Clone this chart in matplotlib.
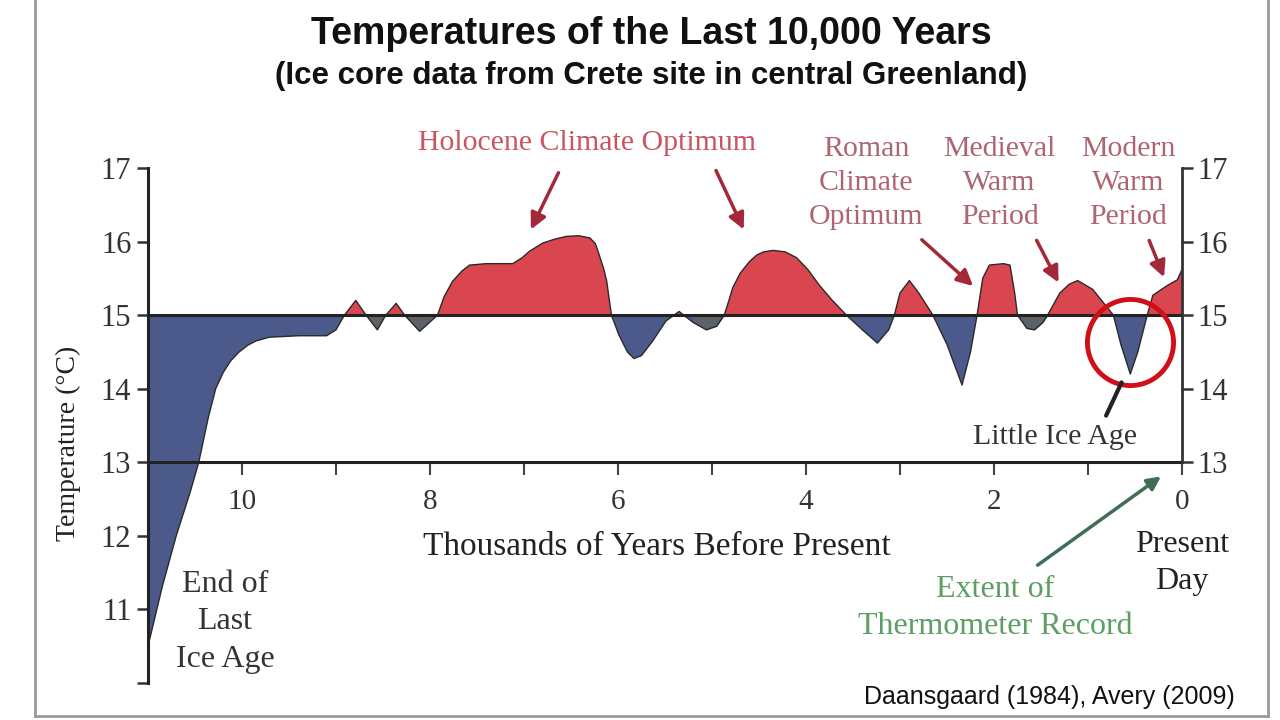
import numpy as np
import matplotlib.pyplot as plt

# thousands of years before present, temperature (deg C)
kyr = [11.00, 10.85, 10.70, 10.55, 10.46, 10.36, 10.28, 10.20, 10.12, 10.03,
       9.94, 9.85, 9.71, 9.40, 9.10, 9.00, 8.91, 8.79, 8.68, 8.56,
       8.47, 8.36, 8.27, 8.11, 7.92, 7.85, 7.76, 7.66, 7.58, 7.40,
       7.12, 7.02, 6.94, 6.80, 6.68, 6.55, 6.42, 6.30, 6.24, 6.20,
       6.15, 6.12, 6.07, 5.99, 5.90, 5.83, 5.75, 5.63, 5.49, 5.35,
       5.20, 5.06, 4.95, 4.87, 4.82, 4.78, 4.70, 4.60, 4.52, 4.45,
       4.35, 4.22, 4.10, 3.98, 3.86, 3.72, 3.57, 3.40, 3.24, 3.12,
       3.06, 3.00, 2.90, 2.80, 2.65, 2.50, 2.34, 2.25, 2.18, 2.12,
       2.05, 1.90, 1.83, 1.78, 1.75, 1.65, 1.57, 1.48, 1.43, 1.30,
       1.20, 1.11, 0.95, 0.73, 0.65, 0.55, 0.47, 0.37, 0.31, 0.16,
       0.05, 0.00]
temp = [10.50, 11.30, 12.00, 12.60, 13.00, 13.60, 14.00, 14.22, 14.38, 14.50,
        14.59, 14.65, 14.70, 14.72, 14.72, 14.80, 15.00, 15.20, 15.00, 14.80,
        15.00, 15.16, 15.00, 14.78, 15.00, 15.25, 15.46, 15.60, 15.68, 15.70,
        15.70, 15.78, 15.87, 15.98, 16.03, 16.07, 16.08, 16.05, 15.97, 15.82,
        15.62, 15.46, 15.00, 14.73, 14.50, 14.41, 14.45, 14.65, 14.92, 15.05,
        14.90, 14.80, 14.85, 15.00, 15.20, 15.37, 15.57, 15.73, 15.82, 15.86,
        15.88, 15.86, 15.78, 15.62, 15.41, 15.20, 15.00, 14.80, 14.62, 14.80,
        15.00, 15.30, 15.47, 15.30, 15.00, 14.60, 14.05, 14.50, 15.00, 15.50,
        15.68, 15.70, 15.68, 15.30, 15.00, 14.82, 14.80, 14.90, 15.00, 15.30,
        15.42, 15.47, 15.35, 15.00, 14.60, 14.20, 14.50, 15.00, 15.27, 15.40,
        15.48, 15.62]

x_major = [10, 8, 6, 4, 2, 0]
x_minor = [9, 7, 5, 3, 1]
y_left = [10, 11, 12, 13, 14, 15, 16, 17]
y_right = [13, 14, 15, 16, 17]
baseline = 15

red = '#d9464f'
blue = '#4b5a8a'
grey = '#5d6168'
serif = 'Liberation Serif'

x = np.array(kyr)
y = np.array(temp)

fig = plt.figure(figsize=(12.8, 7.2), dpi=100)
ax = fig.add_axes([148 / 1280, 1 - 683 / 720, 1034 / 1280, 515 / 720])

ax.fill_between(x, baseline, y, where=y >= baseline, interpolate=True,
                color=red, lw=0)
ax.fill_between(x, baseline, y, where=y <= baseline, interpolate=True,
                color=blue, lw=0)
# the shallow dips look greyer
for lo, hi in [(7.9, 8.7), (4.85, 5.3), (1.43, 1.75)]:
    m = (x >= lo) & (x <= hi)
    ax.fill_between(x[m], baseline, y[m], where=y[m] <= baseline,
                    interpolate=True, color=grey, lw=0)
ax.plot(x, y, color='#2a2a2a', lw=1)
ax.axhline(baseline, color='#222222', lw=2.2)

ax.set_xlim(11, 0)
ax.set_ylim(10, 17)
ax.spines['top'].set_visible(False)
ax.spines['right'].set_visible(False)
ax.spines['bottom'].set_position(('data', 13))
ax.spines['bottom'].set_linewidth(2.2)
ax.spines['left'].set_linewidth(2.2)
ax.spines['left'].set_color('#222222')
ax.spines['bottom'].set_color('#222222')

ax.set_xticks(x_major)
ax.set_xticks(x_minor, minor=True)
ax.set_xticklabels([str(v) for v in x_major], fontfamily=serif, fontsize=21,
                   color='#333333')
ax.set_yticks(y_left)
ax.set_yticklabels([''] + [str(v) for v in y_left[1:]], fontfamily=serif,
                   fontsize=22, color='#333333')
ax.tick_params(axis='x', which='both', direction='out', length=9, width=1.5,
               pad=10, color='#444444')
ax.tick_params(axis='y', direction='out', length=8, width=1.8, pad=4,
               color='#333333')

ax2 = ax.twinx()
ax2.set_position(ax.get_position())
ax2.set_ylim(10, 17)
for s in ['top', 'left', 'bottom']:
    ax2.spines[s].set_visible(False)
ax2.spines['right'].set_bounds(13, 17)
ax2.spines['right'].set_linewidth(2)
ax2.spines['right'].set_color('#333333')
ax2.set_yticks(y_right)
ax2.set_yticklabels([str(v) for v in y_right], fontfamily=serif, fontsize=22,
                    color='#333333')
ax2.tick_params(axis='y', direction='out', length=8, width=1.8, pad=3,
                color='#333333')

# little ice age circle
ax.plot([0.55], [14.63], marker='o', markersize=62, fillstyle='none',
        markeredgecolor='#d01018', markeredgewidth=3.5, clip_on=False)

lab_red = '#c8555f'
lab_dim = '#ad6670'
arr_red = '#a2283a'
ax.text(6.33, 17.34, 'Holocene Climate Optimum', ha='center', va='center',
        fontfamily=serif, fontsize=21.5, color=lab_red)
ax.text(3.36, 16.80, 'Roman\nClimate\nOptimum', ha='center', va='center',
        fontfamily=serif, fontsize=21.5, color=lab_dim, linespacing=1.4)
ax.text(1.94, 16.80, 'Medieval\nWarm\nPeriod', ha='center', va='center',
        fontfamily=serif, fontsize=21.5, color=lab_dim, linespacing=1.4)
ax.text(0.57, 16.80, 'Modern\nWarm\nPeriod', ha='center', va='center',
        fontfamily=serif, fontsize=21.5, color=lab_dim, linespacing=1.4)

arrows = [((6.62, 16.97), (6.94, 16.13)),
          ((4.97, 17.00), (4.65, 16.13)),
          ((2.79, 16.05), (2.20, 15.37)),
          ((1.56, 16.05), (1.30, 15.41)),
          ((0.36, 16.05), (0.18, 15.48))]
for start, end in arrows:
    ax.annotate('', xy=end, xytext=start,
                arrowprops=dict(arrowstyle='-|>', color=arr_red, lw=2.5,
                                mutation_scale=24))

ax.text(1.35, 13.34, 'Little Ice Age', ha='center', va='center',
        fontfamily=serif, fontsize=21.5, color='#333333')
ax.annotate('', xy=(0.63, 14.12), xytext=(0.82, 13.60),
            arrowprops=dict(arrowstyle='-', color='#222222', lw=3))

ax.text(10.18, 10.83, 'End of\nLast\nIce Age', ha='center', va='center',
        fontfamily=serif, fontsize=23, color='#333333', linespacing=1.4)
ax.text(5.59, 11.85, 'Thousands of Years Before Present', ha='center',
        va='center', fontfamily=serif, fontsize=24, color='#222222')
ax.text(0.0, 11.63, 'Present\nDay', ha='center', va='center',
        fontfamily=serif, fontsize=23, color='#222222', linespacing=1.4)
ax.text(1.99, 11.02, 'Extent of\nThermometer Record', ha='center',
        va='center', fontfamily=serif, fontsize=23, color='#5d9e63',
        linespacing=1.4)
ax.annotate('', xy=(0.20, 12.83), xytext=(1.56, 11.58),
            arrowprops=dict(arrowstyle='-|>', color='#3f6e55', lw=2.5,
                            mutation_scale=20))

fig.text(68 / 1280, 1 - 443 / 720, 'Temperature (\u00b0C)', rotation=90,
         ha='center', va='center', fontfamily=serif, fontsize=20,
         color='#222222')

fig.text(651 / 1280, 1 - 34 / 720, 'Temperatures of the Last 10,000 Years',
         ha='center', va='center', fontfamily='Liberation Sans',
         fontweight='bold', fontsize=27, color='#111111')
fig.text(651 / 1280, 1 - 76 / 720,
         '(Ice core data from Crete site in central Greenland)',
         ha='center', va='center', fontfamily='Liberation Sans',
         fontweight='bold', fontsize=22.5, color='#111111')
fig.text(1235 / 1280, 1 - 697 / 720, 'Daansgaard (1984), Avery (2009)',
         ha='right', va='center', fontfamily='Liberation Sans', fontsize=18,
         color='#111111')

# frame around the slide
for xs, ys in [([35, 35], [0, 716]), ([1268, 1268], [0, 716]),
               ([35, 1268], [716, 716])]:
    fig.add_artist(plt.Line2D([v / 1280 for v in xs], [1 - v / 720 for v in ys],
                              color='#9a9a9a', lw=2))

fig.savefig('out.png', dpi=100)
